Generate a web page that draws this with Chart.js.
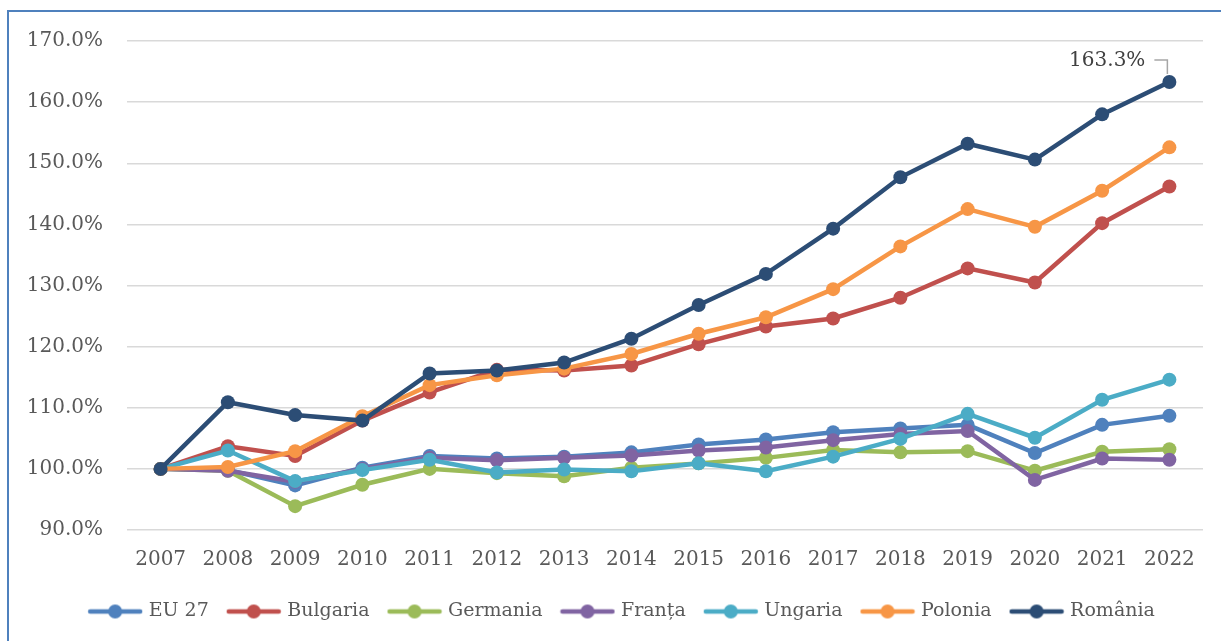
<!DOCTYPE html>
<html>
<head>
<meta charset="utf-8">
<script src="https://cdn.jsdelivr.net/npm/chart.js@4"></script>
<style>
  html, body { margin: 0; padding: 0; background: #fff; }
  #frame {
    position: absolute; left: 7px; top: 10px;
    width: 1214px; height: 631px;
    border-left: 2px solid #4f81bd; border-top: 2px solid #4f81bd;
  }
  #frame canvas { display: block; }
</style>
</head>
<body>
<div id="frame"><canvas id="grafic" width="1212" height="629"></canvas></div>
<script>
// ani
var ani = ['2007', '2008', '2009', '2010', '2011', '2012', '2013', '2014',
           '2015', '2016', '2017', '2018', '2019', '2020', '2021', '2022'];

// valori (%)
var eu27     = [100, 99.8, 97.3, 100.2, 102.1, 101.7, 102.0, 102.7, 104.0, 104.8, 106.0, 106.6, 107.2, 102.6, 107.2, 108.7];
var bulgaria = [100, 103.7, 102.1, 107.9, 112.5, 116.2, 116.1, 116.9, 120.4, 123.3, 124.6, 128.0, 132.8, 130.5, 140.2, 146.2];
var germania = [100, 99.7, 93.9, 97.4, 100.0, 99.3, 98.8, 100.2, 100.9, 101.8, 103.1, 102.7, 102.9, 99.7, 102.8, 103.2];
var franta   = [100, 99.7, 97.9, 100.0, 101.8, 101.4, 101.8, 102.2, 103.0, 103.5, 104.7, 105.7, 106.2, 98.2, 101.7, 101.5];
var ungaria  = [100, 103.0, 98.0, 99.8, 101.5, 99.4, 99.9, 99.6, 100.9, 99.6, 102.0, 104.9, 109.0, 105.1, 111.3, 114.6];
var polonia  = [100, 100.3, 102.9, 108.6, 113.7, 115.3, 116.4, 118.8, 122.1, 124.8, 129.4, 136.4, 142.5, 139.6, 145.5, 152.6];
var romania  = [100, 110.9, 108.8, 107.9, 115.6, 116.1, 117.4, 121.3, 126.8, 131.9, 139.3, 147.7, 153.2, 150.6, 158.0, 163.3];

var serii = [
    { nume: 'EU 27',    date: eu27,     culoare: '#4f81bd' },
    { nume: 'Bulgaria', date: bulgaria, culoare: '#c0504d' },
    { nume: 'Germania', date: germania, culoare: '#9bbb59' },
    { nume: 'Franța',   date: franta,   culoare: '#8064a2' },
    { nume: 'Ungaria',  date: ungaria,  culoare: '#4bacc6' },
    { nume: 'Polonia',  date: polonia,  culoare: '#f79646' },
    { nume: 'România',  date: romania,  culoare: '#2c4d75' }
];

var FONT = '"DejaVu Serif", serif';

// simbolul din legenda: linie cu punct la mijloc
function simbolLegenda(culoare) {
    var c = document.createElement('canvas');
    c.width = 56;
    c.height = 16;
    var g = c.getContext('2d');
    g.strokeStyle = culoare;
    g.lineWidth = 4.5;
    g.lineCap = 'round';
    g.beginPath();
    g.moveTo(3, 8);
    g.lineTo(53, 8);
    g.stroke();
    g.fillStyle = culoare;
    g.beginPath();
    g.arc(28, 8, 7, 0, Math.PI * 2);
    g.fill();
    return c;
}

// eticheta pentru ultima valoare a Romaniei
var etichetaFinala = {
    id: 'etichetaFinala',
    afterDatasetsDraw: function(chart) {
        var idx = serii.length - 1;
        var meta = chart.getDatasetMeta(idx);
        var ultim = meta.data[meta.data.length - 1];
        var valoare = serii[idx].date[serii[idx].date.length - 1];
        var ctx = chart.ctx;
        ctx.save();
        ctx.strokeStyle = '#a6a6a6';
        ctx.lineWidth = 1.5;
        ctx.beginPath();
        ctx.moveTo(ultim.x - 15, ultim.y - 22);
        ctx.lineTo(ultim.x - 2, ultim.y - 22);
        ctx.lineTo(ultim.x - 2, ultim.y - 8);
        ctx.stroke();
        ctx.fillStyle = '#404040';
        ctx.font = '20px ' + FONT;
        ctx.textAlign = 'right';
        ctx.textBaseline = 'middle';
        ctx.fillText(valoare.toFixed(1) + '%', ultim.x - 24, ultim.y - 21);
        ctx.restore();
    }
};

var ctx = document.getElementById('grafic').getContext('2d');

var chart = new Chart(ctx, {
    type: 'line',
    data: {
        labels: ani,
        datasets: serii.map(function(s, i) {
            return {
                label: s.nume,
                data: s.date,
                borderColor: s.culoare,
                backgroundColor: s.culoare,
                pointBackgroundColor: s.culoare,
                pointBorderColor: s.culoare,
                borderWidth: 4.5,
                pointRadius: 7,
                pointBorderWidth: 0,
                tension: 0,
                fill: false,
                order: serii.length - i // Romania desenata deasupra
            };
        })
    },
    options: {
        responsive: false,
        animation: false,
        layout: { padding: { top: 29, right: 0, bottom: 10, left: 16 } },
        scales: {
            x: {
                offset: true,
                grid: { display: false },
                border: { display: false },
                ticks: { color: '#595959', font: { family: FONT, size: 20 }, padding: 10, maxRotation: 0 },
                afterFit: function(scale) {
                    scale.height = 51;
                    scale.paddingRight = 18;
                }
            },
            y: {
                min: 90,
                max: 170,
                grid: { color: '#d9d9d9', lineWidth: 1.5, drawTicks: false },
                border: { display: false },
                ticks: {
                    stepSize: 10,
                    color: '#595959',
                    font: { family: FONT, size: 20 },
                    padding: 24,
                    callback: function(v) { return v.toFixed(1) + '%'; }
                },
                afterFit: function(scale) {
                    scale.width = 102;
                    scale.paddingTop = 0;
                    scale.paddingBottom = 0;
                }
            }
        },
        plugins: {
            tooltip: { enabled: false },
            legend: {
                position: 'bottom',
                labels: {
                    color: '#595959',
                    font: { family: FONT, size: 19 },
                    usePointStyle: true,
                    pointStyleWidth: 48,
                    padding: 21,
                    sort: function(a, b) { return a.datasetIndex - b.datasetIndex; },
                    generateLabels: function(chart) {
                        var items = Chart.defaults.plugins.legend.labels.generateLabels(chart);
                        items.forEach(function(it) {
                            it.pointStyle = simbolLegenda(serii[it.datasetIndex].culoare);
                        });
                        return items;
                    }
                }
            }
        }
    },
    plugins: [etichetaFinala]
});
</script>
</body>
</html>
